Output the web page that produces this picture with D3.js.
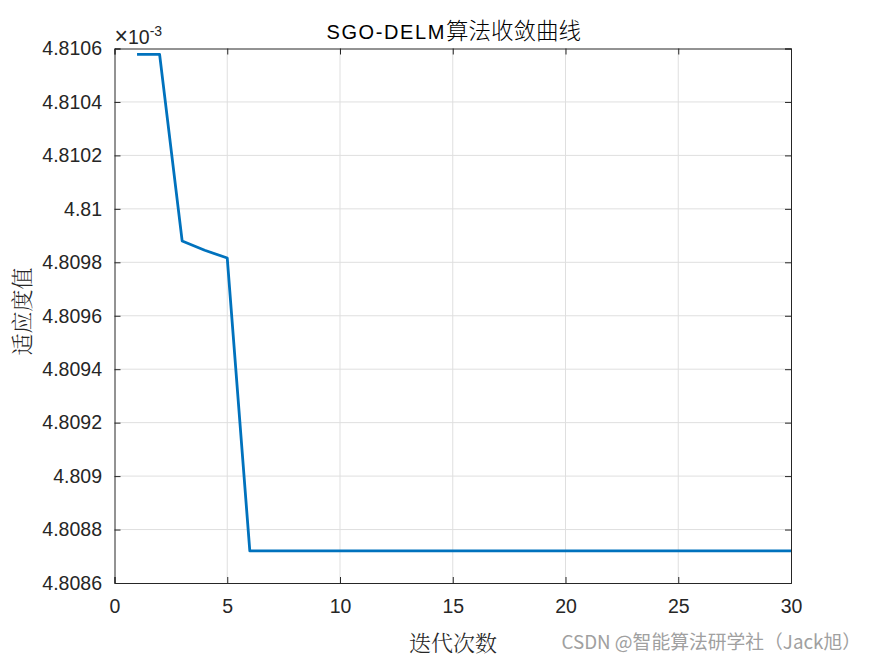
<!DOCTYPE html>
<html><head><meta charset="utf-8">
<script src="https://cdn.jsdelivr.net/npm/d3@7"></script>
<style>body{margin:0;background:#fff}svg{display:block}</style>
</head><body>
<script>
const iterations = [1,2,3,4,5,6,7,8,9,10,11,12,13,14,15,16,17,18,19,20,21,22,23,24,25,26,27,28,29,30];
const fitness = [4.810578e-3,4.810578e-3,4.809880e-3,4.809845e-3,4.809816e-3,
 4.808720e-3,4.808720e-3,4.808720e-3,4.808720e-3,4.808720e-3,4.808720e-3,4.808720e-3,4.808720e-3,4.808720e-3,4.808720e-3,
 4.808720e-3,4.808720e-3,4.808720e-3,4.808720e-3,4.808720e-3,4.808720e-3,4.808720e-3,4.808720e-3,4.808720e-3,4.808720e-3,
 4.808720e-3,4.808720e-3,4.808720e-3,4.808720e-3,4.808720e-3];
const xTicks = [0,5,10,15,20,25,30];
const yTickLabels = ["4.8086","4.8088","4.809","4.8092","4.8094","4.8096","4.8098","4.81","4.8102","4.8104","4.8106"];
const titleLatin = "SGO-DELM";
const titleCJK = "算法收敛曲线";
const xLabel = "迭代次数";
const yLabel = "适应度值";
const watermark = "CSDN @智能算法研学社（Jack旭）";

const W=875,H=656, L=114.5, R=791, T=48.5, B=583;
const svg=d3.select("body").append("svg").attr("width",W).attr("height",H);
const x=d3.scaleLinear().domain([0,30]).range([L,R]);
const y=d3.scaleLinear().domain([4.8086,4.8106]).range([B,T]);
const yTicks=yTickLabels.map(Number);
const font="Liberation Sans, Arial, sans-serif";
const axCol="#262626";

// grid
svg.append("g").selectAll("line").data(xTicks.slice(1,-1)).join("line")
 .attr("x1",d=>x(d)).attr("x2",d=>x(d)).attr("y1",T).attr("y2",B)
 .attr("stroke","#dfdfdf").attr("stroke-width",1);
svg.append("g").selectAll("line").data(yTicks.slice(1,-1)).join("line")
 .attr("y1",d=>y(d)).attr("y2",d=>y(d)).attr("x1",L).attr("x2",R)
 .attr("stroke","#dfdfdf").attr("stroke-width",1);

// axes
const xAxis=d3.axisBottom(x).tickValues(xTicks).tickSize(-6).tickPadding(16).tickFormat(d3.format("d"));
const gx=svg.append("g").attr("transform",`translate(0,${B})`).call(xAxis);
const yAxis=d3.axisLeft(y).tickValues(yTicks).tickSize(-6).tickPadding(12.5).tickFormat((d,i)=>yTickLabels[i]);
const gy=svg.append("g").attr("transform",`translate(${L},0)`).call(yAxis);
const gx2=svg.append("g").attr("transform",`translate(0,${T})`).call(d3.axisTop(x).tickValues(xTicks).tickSize(-6).tickFormat(""));
const gy2=svg.append("g").attr("transform",`translate(${R},0)`).call(d3.axisRight(y).tickValues(yTicks).tickSize(-6).tickFormat(""));
[gx,gy,gx2,gy2].forEach(g=>{
  g.select(".domain").attr("stroke",axCol).attr("stroke-width",1);
  g.selectAll(".tick line").attr("stroke",axCol);
  g.selectAll("text").attr("fill",axCol).style("font-family",font).style("font-size","19.5px");
});

// line
const line=d3.line().x((d,i)=>x(iterations[i])).y(d=>y(d*1e3));
svg.append("path").datum(fitness).attr("d",line).attr("fill","none")
 .attr("stroke","#0072BD").attr("stroke-width",2.8).attr("stroke-linejoin","round");

// exponent
const ex=svg.append("text").attr("x",L).attr("y",44).attr("fill",axCol)
 .style("font-family",font).style("font-size","19.5px");
ex.append("tspan").style("font-size","23px").text("×");
ex.append("tspan").text("10");
ex.append("tspan").attr("dy",-8).style("font-size","14px").text("-3");

// title
const tt=svg.append("text").attr("x",(L+R)/2+1).attr("y",38.5).attr("text-anchor","middle").attr("fill","#000");
tt.append("tspan").style("font-family",font).style("font-size","20px").style("letter-spacing","1.6px").text(titleLatin);
tt.append("tspan").style("font-family","'Noto Sans CJK SC', sans-serif").style("font-weight","300").style("font-size","22.5px").text(titleCJK);

// axis labels
svg.append("text").attr("x",453).attr("y",651).attr("text-anchor","middle").attr("fill",axCol)
 .style("font-family","'Noto Serif CJK SC','Noto Sans CJK SC',serif").style("font-weight","300").style("font-size","22px").text(xLabel);
svg.append("text").attr("transform",`translate(30,311.5) rotate(-90)`).attr("text-anchor","middle").attr("fill",axCol)
 .style("font-family","'Noto Serif CJK SC','Noto Sans CJK SC',serif").style("font-weight","300").style("font-size","22px").text(yLabel);

// watermark
svg.append("text").attr("x",861).attr("y",649).attr("text-anchor","end").attr("fill","#a0a0a0")
 .style("font-family","'Noto Sans CJK SC', sans-serif").style("font-size","18.8px").text(watermark);
</script>
</body></html>
